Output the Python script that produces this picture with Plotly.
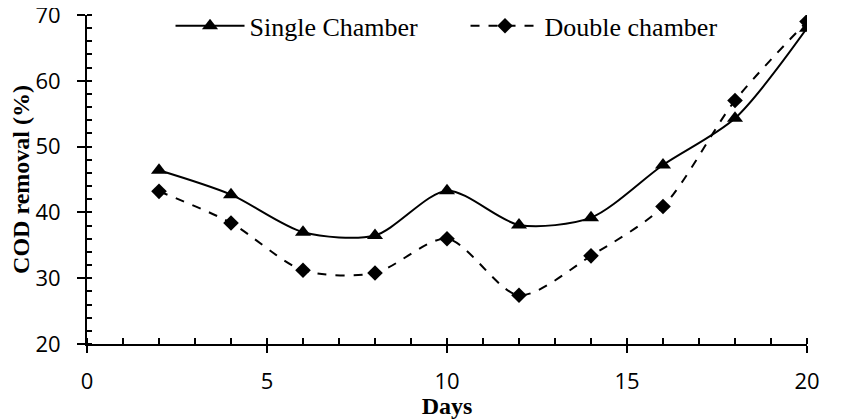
import plotly.graph_objects as go

days = [2, 4, 6, 8, 10, 12, 14, 16, 18, 20]
single_chamber = [46.4, 42.7, 37.0, 36.5, 43.3, 38.1, 39.2, 47.2, 54.3, 68.0]
double_chamber = [43.2, 38.4, 31.2, 30.8, 36.0, 27.4, 33.4, 40.9, 57.0, 69.0]

fig = go.Figure()
fig.add_trace(go.Scatter(
    x=days, y=single_chamber, name="Single Chamber", mode="lines+markers",
    line=dict(color="black", width=2, shape="spline", smoothing=0.8),
    marker=dict(symbol="triangle-up", size=14, color="black"),
))
fig.add_trace(go.Scatter(
    x=days, y=double_chamber, name="Double chamber", mode="lines+markers",
    line=dict(color="black", width=2, dash="dash", shape="spline", smoothing=0.8),
    marker=dict(symbol="diamond", size=12, color="black"),
))

tickfont = dict(family="Open Sans, Lato, sans-serif", size=22, color="black")
titlefont = dict(family="Liberation Serif, Times New Roman, serif", size=24, color="black")

# page body has a default 8px margin, so the figure is offset by 8px
fig.update_layout(
    width=837, height=411,
    margin=dict(l=79, r=38, t=7, b=75, autoexpand=False),
    paper_bgcolor="white", plot_bgcolor="white",
    showlegend=True,
    legend=dict(orientation="h", x=0.116, y=0.967, xanchor="left", yanchor="middle",
                font=dict(family="Liberation Serif, Times New Roman, serif", size=26, color="black"),
                bgcolor="rgba(0,0,0,0)", itemwidth=69, entrywidthmode="pixels", entrywidth=211),
    xaxis=dict(
        range=[0, 20], tickvals=[0, 5, 10, 15, 20], showgrid=False, zeroline=False,
        showline=True, linecolor="black", linewidth=2,
        ticks="outside", ticklen=7, tickwidth=2, tickcolor="black",
        minor=dict(tickvals=list(range(0, 21)), ticks="inside", ticklen=6, tickwidth=2, tickcolor="black"),
        tickfont=tickfont, ticklabelstandoff=10, ticklabeloverflow="allow",
        title=dict(text="<b>Days</b>", font=titlefont, standoff=0),
    ),
    yaxis=dict(
        range=[20, 70], tickvals=[20, 30, 40, 50, 60, 70], showgrid=False, zeroline=False,
        showline=True, linecolor="black", linewidth=2,
        ticks="outside", ticklen=8, tickwidth=2, tickcolor="black",
        minor=dict(tickvals=list(range(20, 71, 2)), ticks="inside", ticklen=5, tickwidth=2, tickcolor="black"),
        tickfont=tickfont, ticklabelstandoff=12, ticklabeloverflow="allow",
        title=dict(text="<b>COD removal (%)</b>", font=titlefont, standoff=2),
    ),
)

fig.write_html("out.html")
